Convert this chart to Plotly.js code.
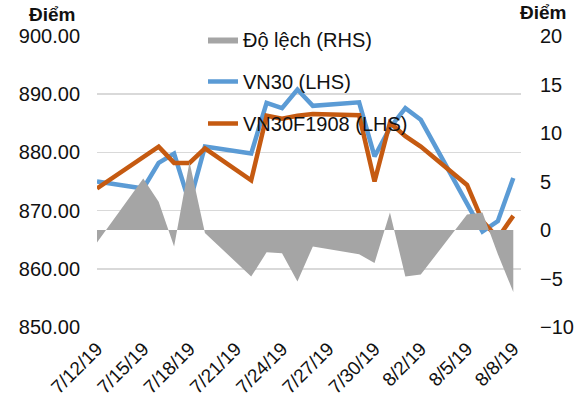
<!DOCTYPE html>
<html>
<head>
<meta charset="utf-8">
<script src="https://cdn.plot.ly/plotly-3.0.1.min.js"></script>
<style>html,body{margin:0;padding:0;background:#fff;}#chart{width:576px;height:405px;}</style>
</head>
<body>
<div id="chart"></div>
<script>
// Trading dates
const dates = ['2019-07-12','2019-07-15','2019-07-16','2019-07-17','2019-07-18','2019-07-19',
  '2019-07-22','2019-07-23','2019-07-24','2019-07-25','2019-07-26',
  '2019-07-29','2019-07-30','2019-07-31','2019-08-01','2019-08-02',
  '2019-08-05','2019-08-06','2019-08-07','2019-08-08'];
// VN30 index (LHS)
const vn30 = [875.0, 873.8, 878.2, 879.8, 871.3, 881.0, 879.8, 888.5, 887.6, 890.8, 888.0,
  888.6, 879.3, 884.2, 887.6, 885.6, 871.2, 866.4, 868.2, 875.6];
// VN30F1908 futures (LHS)
const vn30f = [873.8, 879.1, 881.0, 878.2, 878.2, 880.7, 875.2, 886.3, 885.8, 886.3, 886.6,
  886.4, 875.0, 885.1, 882.8, 881.0, 874.4, 868.2, 865.3, 869.1];
// Deviation (RHS)
const dolech = [-1.3, 5.3, 2.9, -1.7, 7.0, -0.3, -4.8, -2.3, -2.4, -5.3, -1.7,
  -2.5, -3.4, 1.8, -4.8, -4.6, 1.6, 1.8, -2.5, -6.4];

const names = ['Độ lệch (RHS)', 'VN30 (LHS)', 'VN30F1908 (LHS)'];
const FONT = 'Liberation Sans, Arial, sans-serif';
const TXT = '#111111';

const traces = [
  {x: dates, y: dolech, name: names[0], type: 'scatter', mode: 'lines', yaxis: 'y2',
   fill: 'tozeroy', fillcolor: '#A5A5A5', line: {width: 0, color: '#A5A5A5'},
   legendgroup: 'a'},
  {x: dates, y: vn30, name: names[1], type: 'scatter', mode: 'lines', yaxis: 'y',
   line: {color: '#5B9BD5', width: 4.5}, legendgroup: 'b'},
  {x: dates, y: vn30f, name: names[2], type: 'scatter', mode: 'lines', yaxis: 'y',
   line: {color: '#C55A11', width: 4.5}, legendgroup: 'c'}
];

const layout = {
  width: 576, height: 405,
  margin: {l: 97, r: 55, t: 36, b: 78, pad: 0},
  paper_bgcolor: '#ffffff', plot_bgcolor: '#ffffff',
  font: {family: FONT, size: 20, color: TXT},
  showlegend: true,
  legend: {x: 0.25, xanchor: 'left', y: 1.055, yanchor: 'top', orientation: 'v',
    bgcolor: 'rgba(0,0,0,0)', borderwidth: 0, tracegroupgap: 13,
    traceorder: 'grouped', font: {family: FONT, size: 20, color: TXT}},
  xaxis: {
    type: 'date', range: ['2019-07-12', '2019-08-08 12:00'],
    tick0: '2019-07-12', dtick: 3 * 86400000, tickformat: '%-m/%-d/%y',
    tickangle: -45, showgrid: false, zeroline: false, showline: false,
    ticks: '', ticklabelstandoff: 6,
    tickfont: {family: FONT, size: 19, color: TXT}
  },
  yaxis: {
    range: [850, 900], dtick: 10, tickformat: '.2f',
    showgrid: true, gridcolor: '#D9D9D9', gridwidth: 1.5,
    zeroline: false, showline: false, ticks: '', ticklabelstandoff: 16,
    tickfont: {family: FONT, size: 20, color: TXT}
  },
  yaxis2: {
    range: [-10, 20], dtick: 5, overlaying: 'y', side: 'right',
    showgrid: false, zeroline: false, showline: false, ticks: '', ticklabelstandoff: 18,
    tickfont: {family: FONT, size: 20, color: TXT}
  },
  annotations: [
    {text: '<b>Điểm</b>', xref: 'paper', yref: 'paper', x: -0.106, y: 1.075,
     xanchor: 'center', yanchor: 'middle', showarrow: false,
     font: {family: FONT, size: 19, color: TXT}},
    {text: '<b>Điểm</b>', xref: 'paper', yref: 'paper', x: 1.052, y: 1.123,
     xanchor: 'center', yanchor: 'top', showarrow: false,
     font: {family: FONT, size: 19, color: TXT}}
  ]
};

Plotly.newPlot('chart', traces, layout, {staticPlot: true, displayModeBar: false});
</script>
</body>
</html>
